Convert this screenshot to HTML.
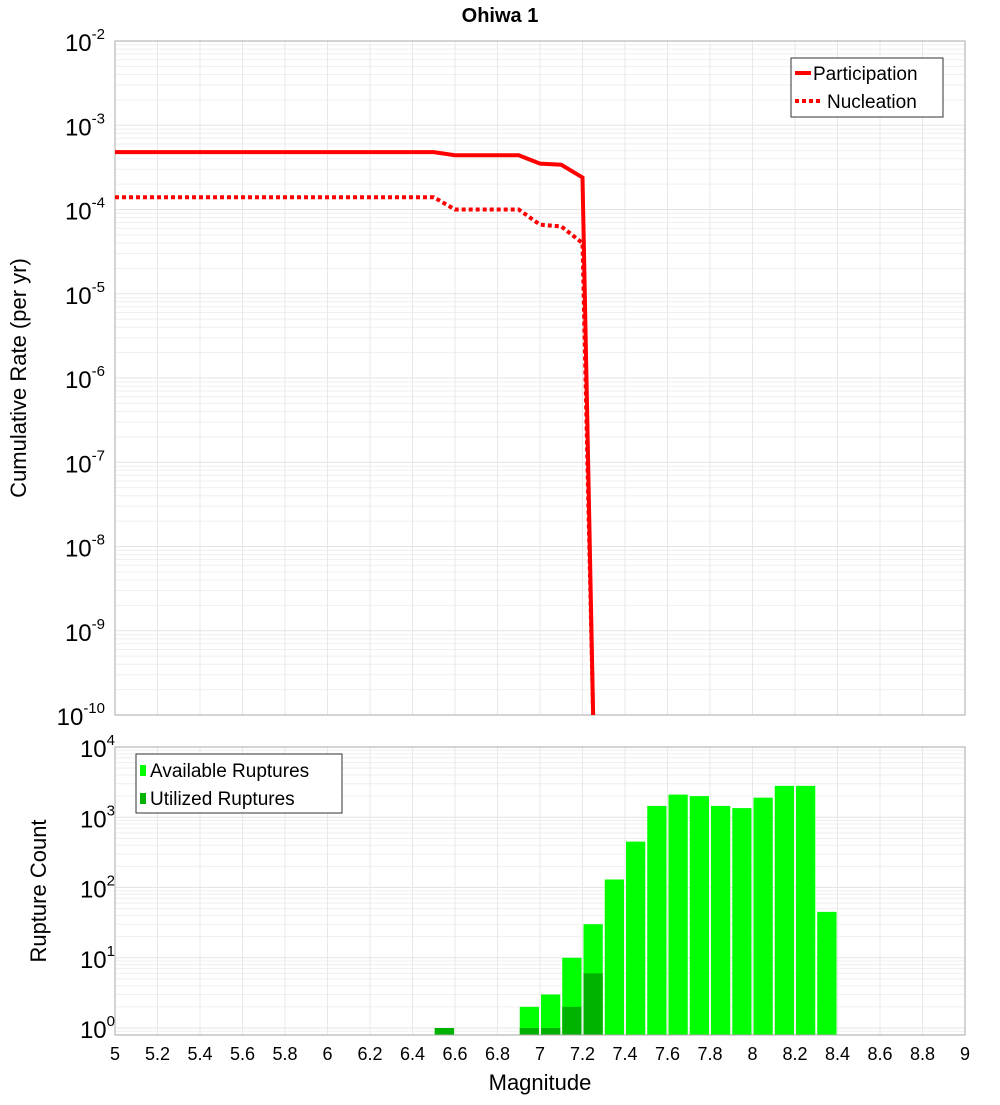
<!DOCTYPE html>
<html><head><meta charset="utf-8"><style>
body{margin:0;background:#fff;}
svg text{font-family:"Liberation Sans","DejaVu Sans",sans-serif;}
</style></head><body>
<svg id="c" width="1000" height="1100" xmlns="http://www.w3.org/2000/svg">
<text x="500" y="22" text-anchor="middle" font-size="20" font-weight="bold">Ohiwa 1</text>
<g id="topPlot"></g>
<g id="botPlot"></g>
<text transform="translate(26,378) rotate(-90)" text-anchor="middle" font-size="22">Cumulative Rate (per yr)</text>
<text transform="translate(46,891) rotate(-90)" text-anchor="middle" font-size="22">Rupture Count</text>
<text x="540" y="1090" text-anchor="middle" font-size="22">Magnitude</text>
</svg>
<script>
const partMags=[5,6.5,6.6,6.9,7.0,7.1,7.2,7.25];
const partRates=[4.8e-4,4.8e-4,4.4e-4,4.4e-4,3.5e-4,3.4e-4,2.4e-4,1e-10];
const nuclMags=[5,6.5,6.6,6.9,7.0,7.1,7.2,7.25];
const nuclRates=[1.4e-4,1.4e-4,1.0e-4,1.0e-4,6.6e-5,6.3e-5,4.0e-5,1e-10];
const binMags=[6.55,6.95,7.05,7.15,7.25,7.35,7.45,7.55,7.65,7.75,7.85,7.95,8.05,8.15,8.25,8.35];
const availCounts=[1,2,3,10,30,130,450,1450,2100,2000,1450,1350,1900,2800,2800,45];
const usedCounts=[1,1,1,2,6,0,0,0,0,0,0,0,0,0,0,0];
const xTicks=[5,5.2,5.4,5.6,5.8,6,6.2,6.4,6.6,6.8,7,7.2,7.4,7.6,7.8,8,8.2,8.4,8.6,8.8,9];

const NS="http://www.w3.org/2000/svg";
const L=115,R=965;
const x=m=>L+(m-5)/4*(R-L);
const T1=41,B1=715;
const y1=v=>T1+(-2-Math.log10(v))*(B1-T1)/8;
const T2=747,B2=1035;
const y2=v=>1028-Math.log10(v)*70.25;
function mk(p,tag,a){const e=document.createElementNS(NS,tag);for(const k in a)e.setAttribute(k,a[k]);p.appendChild(e);return e;}
const topG=document.getElementById('topPlot'),botG=document.getElementById('botPlot');

for(let d=-10;d<-2;d++)for(let k=1;k<10;k++){const yy=y1(k*Math.pow(10,d));
 const g=mk(topG,'line',{x1:L,x2:R,y1:yy,y2:yy,stroke:k==1?'#e4e4e4':'#efefef','stroke-width':1});
 
 }
for(const t of xTicks){const g=mk(topG,'line',{x1:x(t),x2:x(t),y1:T1,y2:B1,stroke:'#e8e8e8'});
 
 }
const f1=mk(topG,'rect',{x:L,y:T1,width:R-L,height:B1-T1,fill:'none',stroke:'#aaa'});


for(let d=-10;d<=-2;d++){const yy=y1(Math.pow(10,d));
 const t=mk(topG,'text',{x:L-10,y:yy+10,'text-anchor':'end','font-size':24});
 
 
 t.innerHTML='10<tspan dy="-12" font-size="15">'+d+'</tspan>';}
function line(ms,vs,dash,name){const pts=ms.map((m,i)=>x(m)+','+y1(vs[i])).join(' ');
 const p=mk(topG,'polyline',{points:pts,fill:'none',stroke:'#f00','stroke-width':4,'stroke-dasharray':dash});
 
 }
line(partMags,partRates,'none','participation-line');
line(nuclMags,nuclRates,'4,3','nucleation-line');
const lg=mk(topG,'g',{});


mk(lg,'rect',{x:791,y:58,width:152,height:59,fill:'#fff',stroke:'#333'});
mk(lg,'line',{x1:795,x2:811,y1:73,y2:73,stroke:'#f00','stroke-width':4});
mk(lg,'line',{x1:795,x2:823,y1:101,y2:101,stroke:'#f00','stroke-width':4,'stroke-dasharray':'4,3'});
const lt1=mk(lg,'text',{x:813,y:80,'font-size':19});lt1.textContent='Participation';


const lt2=mk(lg,'text',{x:827,y:108,'font-size':19});lt2.textContent='Nucleation';



for(let d=-1;d<4;d++)for(let k=1;k<10;k++){const v=k*Math.pow(10,d);const yy=y2(v);if(yy>B2||yy<T2)continue;
 const g=mk(botG,'line',{x1:L,x2:R,y1:yy,y2:yy,stroke:k==1?'#e4e4e4':'#efefef'});
 
 }
for(const t of xTicks){const g=mk(botG,'line',{x1:x(t),x2:x(t),y1:T2,y2:B2,stroke:'#e8e8e8'});
 
 }
binMags.forEach((m,i)=>{
 const w=x(0.1+5)-x(5);
 if(availCounts[i]>0){const r=mk(botG,'rect',{x:x(m)-w/2+1,y:y2(availCounts[i]),width:w-2,height:B2-y2(availCounts[i]),fill:'#00ff00'});
  
  }
 if(usedCounts[i]>0){const r=mk(botG,'rect',{x:x(m)-w/2+1,y:y2(usedCounts[i]),width:w-2,height:B2-y2(usedCounts[i]),fill:'#00b200'});
  
  }
});
const f2=mk(botG,'rect',{x:L,y:T2,width:R-L,height:B2-T2,fill:'none',stroke:'#aaa'});


for(let d=0;d<=4;d++){const yy=y2(Math.pow(10,d));
 const t=mk(botG,'text',{x:L,y:yy+10,'text-anchor':'end','font-size':24});
 
 
 t.innerHTML='10<tspan dy="-12" font-size="15">'+d+'</tspan>';}
for(const tv of xTicks){const t=mk(botG,'text',{x:x(tv),y:1060,'text-anchor':'middle','font-size':18});
 t.textContent=String(tv);
 
 }
const lg2=mk(botG,'g',{});


mk(lg2,'rect',{x:136,y:754,width:206,height:59,fill:'#fff',stroke:'#333'});
mk(lg2,'rect',{x:140,y:765,width:6,height:11,fill:'#00ff00'});
mk(lg2,'rect',{x:140,y:793,width:6,height:11,fill:'#00b200'});
const b1=mk(lg2,'text',{x:150,y:777,'font-size':19});b1.textContent='Available Ruptures';


const b2=mk(lg2,'text',{x:150,y:805,'font-size':19});b2.textContent='Utilized Ruptures';


</script>
</body></html>
